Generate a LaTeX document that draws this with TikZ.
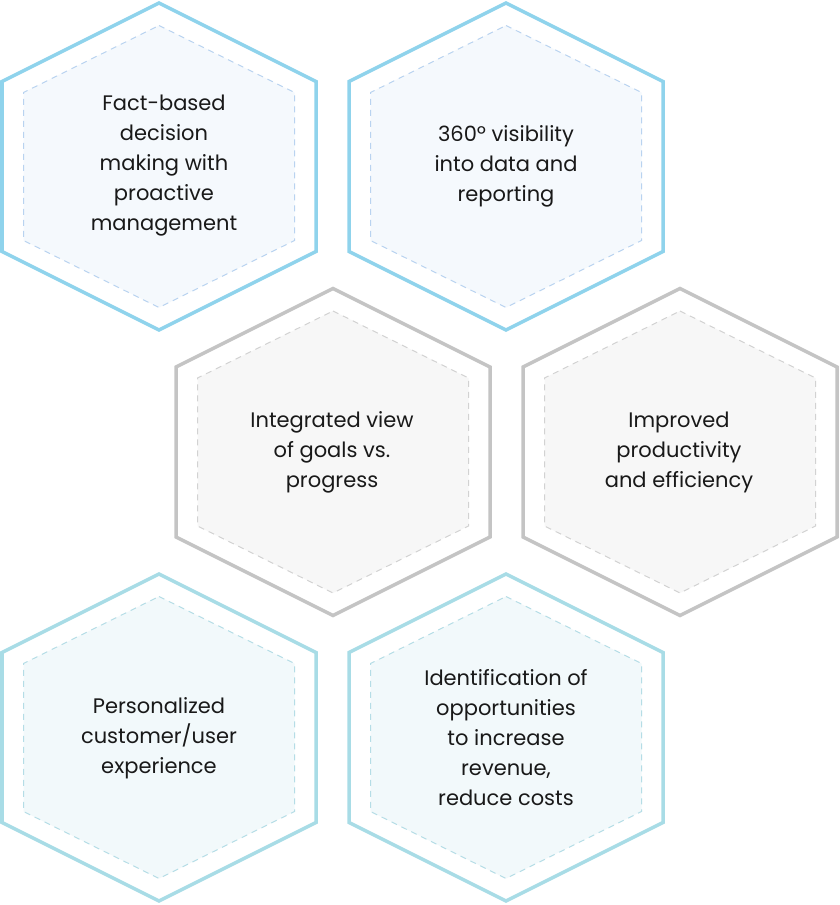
\documentclass[tikz,border=0pt]{standalone}
\usepackage{fontspec}
\setmainfont{Poppins}
\definecolor{SkyEdge}{HTML}{8FD3EC}
\definecolor{SkyDash}{HTML}{B9D3F0}
\definecolor{SkyFill}{HTML}{F5F9FD}
\definecolor{GreyEdge}{HTML}{C4C4C4}
\definecolor{GreyDash}{HTML}{D2D2D2}
\definecolor{GreyFill}{HTML}{F7F7F7}
\definecolor{TealEdge}{HTML}{A8DCE6}
\definecolor{TealDash}{HTML}{B5DDE6}
\definecolor{TealFill}{HTML}{F2F9FB}

\tikzset{
  hexout/.style={line width=3.5pt, line join=miter},
  hexin/.style={line width=1pt, dash pattern={on 6pt off 5pt}},
  hextext/.style={align=center, font=\fontsize{21}{30}\selectfont, text=black!90}
}

% outer and inner hexagon around (#1,#2); #3 = colour prefix
\newcommand{\hexcell}[3]{%
  \draw [hexout, draw=#3Edge, fill=white]
    (#1,#2-163.5) -- (#1+157,#2-85) -- (#1+157,#2+85) -- (#1,#2+163.5)
    -- (#1-157,#2+85) -- (#1-157,#2-85) -- cycle ;
  \draw [hexin, draw=#3Dash, fill=#3Fill]
    (#1,#2-141) -- (#1+135.5,#2-74) -- (#1+135.5,#2+74) -- (#1,#2+141)
    -- (#1-135.5,#2+74) -- (#1-135.5,#2-74) -- cycle ;
}

\begin{document}
\begin{tikzpicture}[x=1pt,y=-1pt]
  \useasboundingbox (0,0) rectangle (839,905);

  %Row 1
  \hexcell{159}{166.5}{Sky}
  \hexcell{506}{166.5}{Sky}
  %Row 2
  \hexcell{333}{452}{Grey}
  \hexcell{680}{452}{Grey}
  %Row 3
  \hexcell{159}{737.5}{Teal}
  \hexcell{506}{737.5}{Teal}

  % Text Nodes
  \node [hextext] (fact) at (164,166) {Fact-based\\decision\\making with\\proactive\\management};
  \node [hextext] (vis) at (506,166) {360º visibility\\into data and\\reporting};
  \node [hextext] (goals) at (332,452) {Integrated view\\of goals vs.\\progress};
  \node [hextext] (prod) at (679,452) {Improved\\productivity\\and efficiency};
  \node [hextext] (cust) at (159,738) {Personalized\\customer/user\\experience};
  \node [hextext] (opp) at (506,738) {Identification of\\opportunities\\to increase\\revenue,\\reduce costs};
\end{tikzpicture}
\end{document}
